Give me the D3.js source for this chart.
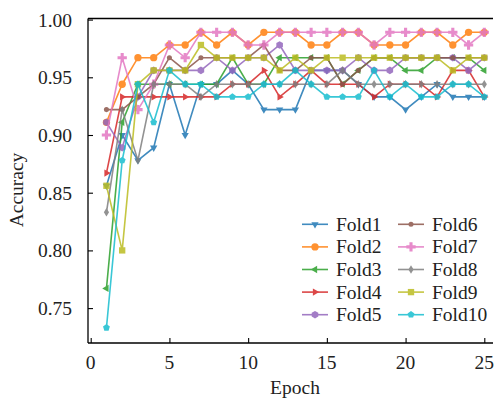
<!DOCTYPE html>
<html><head><meta charset="utf-8">
<script src="https://cdn.jsdelivr.net/npm/d3@7"></script>
<style>body{margin:0;background:#fff}svg{display:block}
svg text{font-family:"Liberation Serif","Times New Roman",Times,serif;font-size:19.5px;fill:#222}</style>
</head><body><svg id="c" width="498" height="405"></svg>
<script>
const epochs = d3.range(1, 26);
const seriesNames = ["Fold1","Fold2","Fold3","Fold4","Fold5","Fold6","Fold7","Fold8","Fold9","Fold10"];
const fold1  = [0.856,0.900,0.878,0.889,0.944,0.900,0.944,0.944,0.956,0.944,0.922,0.922,0.922,0.956,0.956,0.956,0.944,0.933,0.933,0.922,0.933,0.944,0.933,0.933,0.933];
const fold2  = [0.911,0.944,0.967,0.967,0.978,0.978,0.989,0.978,0.989,0.978,0.989,0.989,0.989,0.978,0.978,0.989,0.989,0.978,0.978,0.978,0.989,0.989,0.978,0.989,0.989];
const fold3  = [0.767,0.911,0.944,0.944,0.944,0.944,0.944,0.944,0.967,0.944,0.944,0.967,0.967,0.967,0.967,0.944,0.956,0.967,0.967,0.956,0.956,0.967,0.967,0.967,0.956];
const fold4  = [0.867,0.933,0.933,0.933,0.933,0.933,0.933,0.933,0.944,0.944,0.956,0.933,0.944,0.956,0.944,0.944,0.944,0.933,0.944,0.944,0.944,0.933,0.956,0.956,0.933];
const fold5  = [0.911,0.889,0.933,0.956,0.956,0.956,0.956,0.967,0.956,0.967,0.967,0.978,0.956,0.956,0.956,0.956,0.967,0.956,0.956,0.967,0.967,0.967,0.967,0.956,0.967];
const fold6  = [0.922,0.922,0.933,0.944,0.967,0.956,0.967,0.967,0.967,0.967,0.978,0.956,0.956,0.967,0.967,0.944,0.956,0.967,0.967,0.967,0.967,0.967,0.967,0.967,0.967];
const fold7  = [0.900,0.967,0.922,0.944,0.978,0.967,0.989,0.989,0.989,0.978,0.978,0.989,0.989,0.989,0.989,0.989,0.989,0.978,0.989,0.989,0.989,0.989,0.989,0.978,0.989];
const fold8  = [0.833,0.922,0.878,0.944,0.944,0.944,0.933,0.944,0.944,0.944,0.944,0.944,0.944,0.944,0.944,0.956,0.944,0.944,0.944,0.944,0.944,0.944,0.944,0.944,0.944];
const fold9  = [0.856,0.800,0.944,0.956,0.956,0.956,0.978,0.967,0.967,0.967,0.967,0.956,0.967,0.956,0.967,0.967,0.967,0.967,0.967,0.967,0.967,0.967,0.956,0.967,0.967];
const fold10 = [0.733,0.878,0.944,0.911,0.956,0.944,0.944,0.933,0.933,0.933,0.944,0.944,0.956,0.944,0.933,0.933,0.933,0.956,0.933,0.944,0.933,0.933,0.944,0.944,0.933];
const seriesValues = [fold1,fold2,fold3,fold4,fold5,fold6,fold7,fold8,fold9,fold10];
const colors = ["#1f77b4","#ff7f0e","#2ca02c","#d62728","#9467bd","#8c564b","#e377c2","#7f7f7f","#bcbd22","#17becf"];
const markers = ["tdown","circle","tleft","tright","hex","dot","plus","thin","square","pent"];
const xTicks = [0,5,10,15,20,25];
const yTicks = [0.75,0.80,0.85,0.90,0.95,1.00];

const svg = d3.select("#c");
const L = 88, R = 493, T = 18.5, B = 343;
const x = d3.scaleLinear().domain([0,25]).range([90.7,484.3]);
const y = d3.scaleLinear().domain([0.9,1.0]).range([135,19.6]);

function markerPath(type){
  const poly = (n, rot, rr) => {
    const p = [];
    for (let i=0;i<n;i++){ const a = rot + i*2*Math.PI/n; p.push([rr*Math.cos(a), rr*Math.sin(a)]); }
    return "M" + p.map(q=>q[0].toFixed(2)+","+q[1].toFixed(2)).join("L") + "Z";
  };
  switch(type){
    case "tdown": return poly(3, Math.PI/2, 4.2);
    case "tleft": return poly(3, Math.PI, 4.2);
    case "tright": return poly(3, 0, 4.2);
    case "circle": return d3.symbol(d3.symbolCircle, 42)();
    case "hex": return poly(6, Math.PI/2, 3.8);
    case "dot": return d3.symbol(d3.symbolCircle, 20)();
    case "plus": return d3.symbol(d3.symbolCross, 48)();
    case "thin": return "M0,-4.2L2.6,0L0,4.2L-2.6,0Z";
    case "square": return d3.symbol(d3.symbolSquare, 40)();
    case "pent": return poly(5, -Math.PI/2, 3.6);
  }
}

// axes frame
svg.append("line").attr("x1",L).attr("x2",L).attr("y1",T).attr("y2",B).attr("stroke","#000").attr("stroke-width",1.3);
svg.append("line").attr("x1",L).attr("x2",R).attr("y1",B).attr("y2",B).attr("stroke","#000").attr("stroke-width",1.3);
svg.append("line").attr("x1",L).attr("x2",R).attr("y1",T).attr("y2",T).attr("stroke","#000").attr("stroke-width",1.3);

// ticks (inward)
const xAxis = d3.axisTop(x).tickValues(xTicks).tickSize(5).tickFormat("");
svg.append("g").attr("transform",`translate(0,${B})`).call(xAxis).call(g=>{g.select(".domain").remove(); g.selectAll("line").attr("stroke","#000").attr("stroke-width",1.1);});
const yAxis = d3.axisRight(y).tickValues(yTicks).tickSize(5).tickFormat("");
svg.append("g").attr("transform",`translate(${L},0)`).call(yAxis).call(g=>{g.select(".domain").remove(); g.selectAll("line").attr("stroke","#000").attr("stroke-width",1.1);});

// tick labels
svg.append("g").selectAll("text").data(xTicks).join("text")
  .attr("x",d=>x(d)).attr("y",369).attr("text-anchor","middle").text(d=>d);
svg.append("g").selectAll("text").data(yTicks).join("text")
  .attr("x",72).attr("y",d=>y(d)+7).attr("text-anchor","end").text(d=>d.toFixed(2));
svg.append("text").attr("x",295).attr("y",394).attr("text-anchor","middle").text("Epoch");
svg.append("text").attr("transform","translate(23,190) rotate(-90)").attr("text-anchor","middle").text("Accuracy");

// series
const line = d3.line().x((d,i)=>x(epochs[i])).y(d=>y(d));
seriesValues.forEach((vals, k)=>{
  const g = svg.append("g").attr("opacity",0.85);
  g.append("path").attr("d", line(vals)).attr("fill","none").attr("stroke",colors[k]).attr("stroke-width",1.6);
  g.selectAll("path.m").data(vals).join("path").attr("class","m")
    .attr("d", markerPath(markers[k])).attr("fill",colors[k])
    .attr("transform",(d,i)=>`translate(${x(epochs[i])},${y(d)})`);
});

// legend
const leg = svg.append("g");
seriesNames.forEach((name,k)=>{
  const col = Math.floor(k/5), row = k%5;
  const lx = col===0 ? 302 : 398;
  const ly = 224.3 + row*22.6;
  const g = leg.append("g").attr("opacity",0.85);
  g.append("line").attr("x1",lx).attr("x2",lx+26).attr("y1",ly).attr("y2",ly).attr("stroke",colors[k]).attr("stroke-width",1.6);
  g.append("path").attr("d",markerPath(markers[k])).attr("fill",colors[k]).attr("transform",`translate(${lx+13},${ly})`);
  leg.append("text").attr("x",lx+34).attr("y",ly+6.5).text(name);
});
</script>
</body></html>
